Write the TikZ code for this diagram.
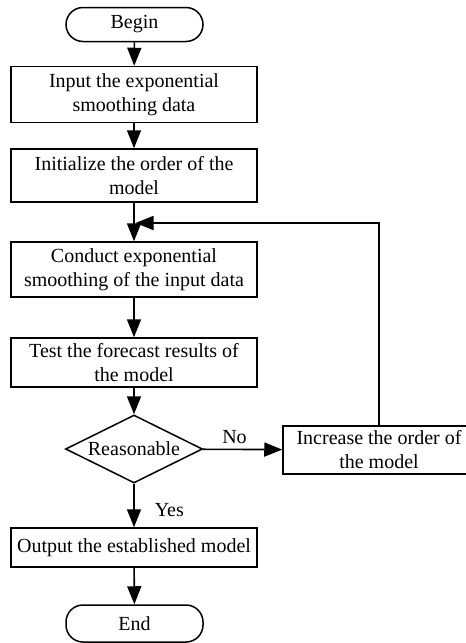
\documentclass[tikz,border=0pt]{standalone}
\usepackage{fontspec}
\setmainfont{Liberation Serif}
\usetikzlibrary{arrows.meta,shapes.geometric}
\begin{document}
\begin{tikzpicture}[x=1pt,y=-1pt,
  every node/.style={font=\fontsize{20}{24}\selectfont, align=center, inner sep=0pt, line width=1.5pt},
  box/.style={draw, rectangle, minimum width=246pt},
  term/.style={draw, rectangle, rounded corners=17pt, minimum width=137pt},
  dec/.style={draw, diamond, aspect=2, minimum width=137pt, minimum height=68pt},
  conn/.style={line width=1.6pt, -{Triangle[length=18pt,width=14pt]}},
  plain/.style={line width=1.5pt}]
\useasboundingbox (0,0) rectangle (466,643);
\clip (0,0) rectangle (466,643);
\node[term, minimum height=34pt] (begin) at (134.5,24.5) {Begin};
\node[box, minimum height=56pt] (input) at (134,94.5) {Input the exponential\\smoothing data};
\node[box, minimum height=53pt] (init) at (134,175.5) {Initialize the order of the\\model};
\node[box, minimum height=55pt] (conduct) at (134,269.5) {Conduct exponential\\smoothing of the input data};
\node[box, minimum height=49pt] (test) at (134,362.5) {Test the forecast results of\\the model};
\node[dec] (reas) at (134,449) {Reasonable};
\node[draw, rectangle, minimum width=192pt, minimum height=48pt] (inc) at (379,450) {Increase the order of\\the model};
\node[box, minimum height=39pt] (out) at (134,547.5) {Output the established model};
\node[term, minimum height=37pt] (end) at (134.5,623.5) {End};
\coordinate (join) at (134,223);
\draw[conn] (begin) -- (input);
\draw[conn] (input) -- (init);
\draw[conn] (init) -- (conduct);
\draw[conn] (conduct) -- (test);
\draw[conn] (test) -- (reas);
\draw[conn] (reas) -- node[above=5pt, pos=0.4] (no) {No} (inc);
\draw[conn] (reas) -- node[right=20pt, pos=0.6] (yes) {Yes} (out);
\draw[conn] (out) -- (end);
\draw[conn] (inc.north) |- ([xshift=1.5pt]join);
\end{tikzpicture}
\end{document}
